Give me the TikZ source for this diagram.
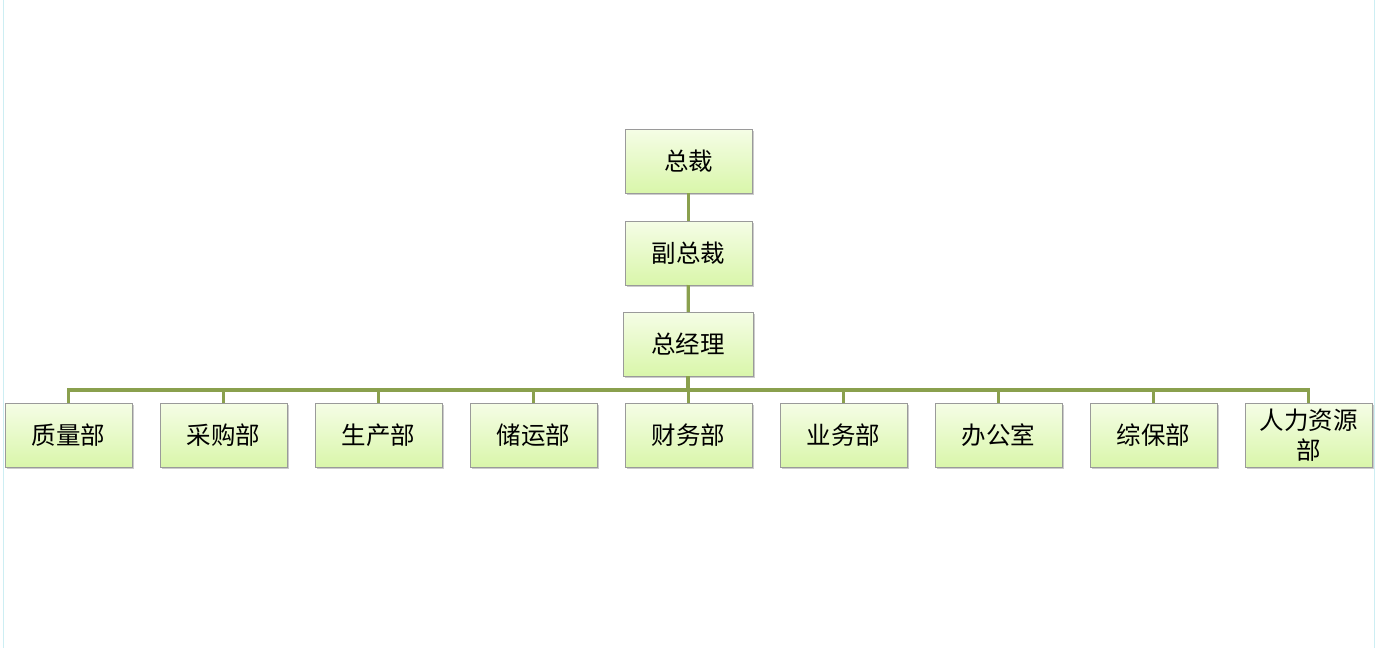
\documentclass[tikz,border=0pt]{standalone}
\usepackage{fontspec}
\setmainfont{Noto Sans CJK SC}
\usetikzlibrary{shadows}
\definecolor{busgreen}{HTML}{8AA04E}
\definecolor{boxgray}{HTML}{9A9A9A}
\definecolor{boxtop}{HTML}{F5FDE6}
\definecolor{boxbot}{HTML}{D9F6AA}
\definecolor{pageedge}{HTML}{CDEEF3}
\begin{document}
\begin{tikzpicture}[x=1pt,y=-1pt,inner sep=2pt,outer sep=0pt,
orgblock/.style={draw=boxgray,rectangle,minimum width=127pt,minimum height=64pt,
  top color=boxtop,bottom color=boxbot,
  drop shadow={shadow xshift=2pt,shadow yshift=-2pt,fill=black!40},
  font=\fontsize{24.5}{30}\selectfont,align=center},
link/.style={draw=busgreen,line width=3.2pt}]
\useasboundingbox (0,0) rectangle (1378,648);
\draw[pageedge,line width=1.5pt] (3.5,0) -- (3.5,648);
\draw[pageedge,line width=1.5pt] (1374.5,0) -- (1374.5,648);
% top of the chart
\draw (688.5,161) node[orgblock] (ceo) {总裁};
\draw (688.5,253) node[orgblock] (vp) {副总裁};
\draw (688,344) node[orgblock,minimum width=130pt] (gm) {总经理};
% departments
\foreach \name/\label [count=\i from 0] in {zl/质量部,cg/采购部,sc/生产部,cy/储运部,cw/财务部,yw/业务部,bg/办公室,zb/综保部,rl/人力资源\\部}
  \draw ({68.5+155*\i},435) node[orgblock] (\name) {\label};
\coordinate (bus) at (688.5,390);
\draw[link] (ceo) -- (vp);
\draw[link] (vp) -- (gm);
\draw[link] (gm) -- (gm |- bus);
\draw[link] (zl.north) -- (zl.north |- bus) -| (rl.north);
\foreach \name in {cg,sc,cy,cw,yw,bg,zb}
  \draw[link] (\name.north) -- (\name.north |- bus);
\end{tikzpicture}
\end{document}
